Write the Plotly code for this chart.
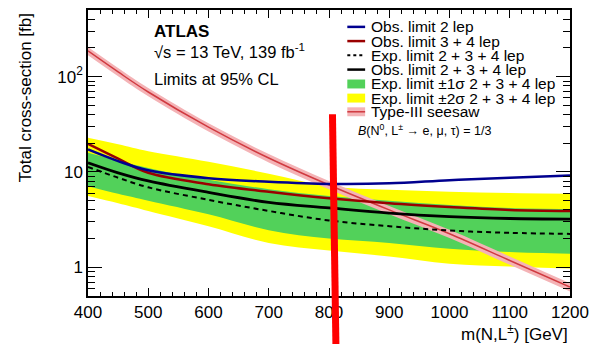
import plotly.graph_objects as go

# ---------------- data ----------------
mass = [400, 450, 500, 600, 700, 800, 900, 1000, 1100, 1200]

obs_2lep = [17.2, 13.0, 10.4, 8.6, 7.9, 7.5, 7.6, 8.2, 8.7, 9.2]
obs_34lep = [19.7, 13.8, 9.8, 7.45, 6.2, 5.3, 4.7, 4.3, 4.0, 3.9]
obs_234lep = [12.5, 9.8, 8.05, 6.1, 4.8, 4.2, 3.7, 3.4, 3.25, 3.2]
exp_234lep = [11.3, 8.7, 6.9, 5.1, 3.9, 3.1, 2.7, 2.43, 2.3, 2.24]
exp_1s_up = [15.9, 13.2, 11.0, 8.3, 6.6, 5.6, 5.0, 4.5, 4.2, 4.1]
exp_1s_dn = [7.1, 5.9, 5.0, 3.6, 2.45, 2.0, 1.8, 1.57, 1.45, 1.39]
exp_2s_up = [22.8, 19.5, 16.5, 12.8, 9.6, 7.1, 6.5, 6.2, 6.0, 5.9]
exp_2s_dn = [5.6, 4.7, 3.9, 2.7, 1.8, 1.5, 1.3, 1.09, 1.02, 0.97]
seesaw = [186, 112, 69, 29.5, 14.0, 7.3, 4.0, 2.25, 1.18, 0.62]
seesaw_unc = 0.10  # relative theory uncertainty band

x_ticks = [400, 500, 600, 700, 800, 900, 1000, 1100, 1200]
y_ticks = [1, 10, 100]
y_ticktext = ["1", "10", "10<sup>2</sup>"]
y_minor = [0.5, 0.6, 0.7, 0.8, 0.9, 2, 3, 4, 5, 6, 7, 8, 9,
           20, 30, 40, 50, 60, 70, 80, 90, 200, 300, 400, 500]

legend_labels = [
    "Obs. limit 2 lep",
    "Obs. limit 3 + 4 lep",
    "Exp. limit 2 + 3 + 4 lep",
    "Obs. limit 2 + 3 + 4 lep",
    "Exp. limit \u00b11\u03c3 2 + 3 + 4 lep",
    "Exp. limit \u00b12\u03c3 2 + 3 + 4 lep",
    "Type-III seesaw",
]

# ---------------- style ----------------
FONT = "Liberation Sans, Arial, sans-serif"
C_BLUE = "#00008f"
C_RED = "#9a0000"
C_BLACK = "#000000"
C_GREEN = "#52d15a"
C_YELLOW = "#ffff00"
C_PINK = "#f4b3b6"
C_PINKLINE = "#d03a40"

W, H = 597, 344
ML, MR, MT, MB = 88, 22, 8, 48
PW, PH = W - ML - MR, H - MT - MB


def px(xp):
    return (xp - ML) / PW


def py(yp):
    return (H - MB - yp) / PH


fig = go.Figure()

# 2 sigma band
fig.add_trace(go.Scatter(x=mass, y=exp_2s_up, mode="lines", line=dict(width=0, color=C_YELLOW, shape="spline"),
                         showlegend=False, hoverinfo="skip"))
fig.add_trace(go.Scatter(x=mass, y=exp_2s_dn, mode="lines", line=dict(width=0, color=C_YELLOW, shape="spline"),
                         fill="tonexty", fillcolor=C_YELLOW, showlegend=False, hoverinfo="skip"))
# 1 sigma band
fig.add_trace(go.Scatter(x=mass, y=exp_1s_up, mode="lines", line=dict(width=0, color=C_GREEN, shape="spline"),
                         showlegend=False, hoverinfo="skip"))
fig.add_trace(go.Scatter(x=mass, y=exp_1s_dn, mode="lines", line=dict(width=0, color=C_GREEN, shape="spline"),
                         fill="tonexty", fillcolor=C_GREEN, showlegend=False, hoverinfo="skip"))

# seesaw band + line
ss_up = [v * (1 + seesaw_unc) for v in seesaw]
ss_dn = [v * (1 - seesaw_unc) for v in seesaw]
fig.add_trace(go.Scatter(x=mass, y=ss_up, mode="lines", line=dict(width=0, color=C_PINK, shape="spline"),
                         showlegend=False, hoverinfo="skip"))
fig.add_trace(go.Scatter(x=mass, y=ss_dn, mode="lines", line=dict(width=0, color=C_PINK, shape="spline"),
                         fill="tonexty", fillcolor=C_PINK, showlegend=False, hoverinfo="skip"))
fig.add_trace(go.Scatter(x=mass, y=seesaw, mode="lines", line=dict(width=1.5, color=C_PINKLINE, shape="spline"),
                         showlegend=False))

# limit lines
fig.add_trace(go.Scatter(x=mass, y=exp_234lep, mode="lines",
                         line=dict(width=2, color=C_BLACK, dash="5px,4px", shape="spline"), showlegend=False))
fig.add_trace(go.Scatter(x=mass, y=obs_234lep, mode="lines",
                         line=dict(width=2.8, color=C_BLACK, shape="spline"), showlegend=False))
fig.add_trace(go.Scatter(x=mass, y=obs_34lep, mode="lines",
                         line=dict(width=2.5, color=C_RED, shape="spline"), showlegend=False))
fig.add_trace(go.Scatter(x=mass, y=obs_2lep, mode="lines",
                         line=dict(width=2.5, color=C_BLUE, shape="spline"), showlegend=False))

shapes = []
annotations = []

# manual ROOT-style legend
row_y = [25, 39.3, 53.5, 68, 82.5, 96.7, 110.5]
sx0, sx1, tx = 350, 368, 372
for i, (lab, yy) in enumerate(zip(legend_labels, row_y)):
    if i in (0, 1, 3):
        col = [C_BLUE, C_RED, None, C_BLACK][i]
        shapes.append(dict(type="line", xref="paper", yref="paper", x0=px(sx0), x1=px(sx1), y0=py(yy), y1=py(yy),
                           line=dict(color=col, width=2.5)))
    elif i == 2:
        shapes.append(dict(type="line", xref="paper", yref="paper", x0=px(sx0), x1=px(sx1), y0=py(yy), y1=py(yy),
                           line=dict(color=C_BLACK, width=2, dash="3px,3px")))
    elif i in (4, 5):
        col = C_GREEN if i == 4 else C_YELLOW
        shapes.append(dict(type="rect", xref="paper", yref="paper", x0=px(sx0), x1=px(sx1), y0=py(yy + 4.5),
                           y1=py(yy - 4.5), line=dict(width=0), fillcolor=col))
    else:
        shapes.append(dict(type="rect", xref="paper", yref="paper", x0=px(sx0), x1=px(sx1), y0=py(yy + 4.5),
                           y1=py(yy - 4.5), line=dict(width=0), fillcolor=C_PINK))
        shapes.append(dict(type="line", xref="paper", yref="paper", x0=px(sx0), x1=px(sx1), y0=py(yy), y1=py(yy),
                           line=dict(color=C_PINKLINE, width=1.5)))
    annotations.append(dict(xref="paper", yref="paper", x=px(tx), y=py(yy), text=lab, showarrow=False,
                            xanchor="left", yanchor="middle", font=dict(family=FONT, size=15.5, color="black")))

annotations.append(dict(xref="paper", yref="paper", x=px(359), y=py(129),
                        text="<i>B</i>(N<sup>0</sup>, L<sup>\u00b1</sup> \u2192 e, \u03bc, \u03c4) = 1/3",
                        showarrow=False, xanchor="left", yanchor="middle",
                        font=dict(family=FONT, size=12.5, color="black")))

# ATLAS labels
annotations.append(dict(xref="paper", yref="paper", x=px(153), y=py(30), text="<b>ATLAS</b>", showarrow=False,
                        xanchor="left", yanchor="middle", font=dict(family=FONT, size=17, color="black")))
annotations.append(dict(xref="paper", yref="paper", x=px(153), y=py(49),
                        text="\u221as = 13 TeV, 139 fb<sup>-1</sup>", showarrow=False,
                        xanchor="left", yanchor="middle", font=dict(family=FONT, size=16.5, color="black")))
annotations.append(dict(xref="paper", yref="paper", x=px(153), y=py(77), text="Limits at 95% CL", showarrow=False,
                        xanchor="left", yanchor="middle", font=dict(family=FONT, size=16.5, color="black")))

# axis titles (ROOT style, aligned to the ends)
annotations.append(dict(xref="paper", yref="paper", x=1.0, y=py(333), text="m(N,L<sup>\u00b1</sup>) [GeV]",
                        showarrow=False, xanchor="right", yanchor="middle",
                        font=dict(family=FONT, size=17, color="black")))
annotations.append(dict(xref="paper", yref="paper", x=px(25), y=py(9), text="Total cross-section [fb]",
                        showarrow=False, xanchor="center", yanchor="top", textangle=-90,
                        font=dict(family=FONT, size=17, color="black")))

# red vertical marker line drawn over the figure
shapes.append(dict(type="line", xref="paper", yref="paper", x0=px(335), x1=px(338.5), y0=py(113), y1=py(346),
                   line=dict(color="#ff0000", width=7), layer="above"))

fig.update_layout(
    width=W, height=H,
    margin=dict(l=ML, r=MR, t=MT, b=MB),
    paper_bgcolor="white", plot_bgcolor="white",
    showlegend=False,
    shapes=shapes, annotations=annotations,
    font=dict(family=FONT, size=17, color="black"),
)
fig.update_xaxes(range=[400, 1200], tickvals=x_ticks, ticks="inside", ticklen=8, tickwidth=1, tickcolor="black",
                 showline=True, linecolor="black", linewidth=1.5, mirror="ticks", showgrid=False, zeroline=False,
                 tickfont=dict(family=FONT, size=17),
                 minor=dict(dtick=20, ticks="inside", ticklen=4, tickcolor="black", showgrid=False))
fig.update_yaxes(type="log", range=[-0.30103, 2.69897], tickvals=y_ticks, ticktext=y_ticktext, ticks="inside",
                 ticklen=14, tickwidth=1, tickcolor="black", showline=True, linecolor="black", linewidth=1.5,
                 mirror="ticks", showgrid=False, zeroline=False, tickfont=dict(family=FONT, size=17),
                 minor=dict(tickvals=y_minor, ticks="inside", ticklen=7, tickcolor="black", showgrid=False))

fig.write_html("out.html", config={"displayModeBar": False},
               post_script="document.body.style.margin='0';document.body.style.overflow='hidden';")
